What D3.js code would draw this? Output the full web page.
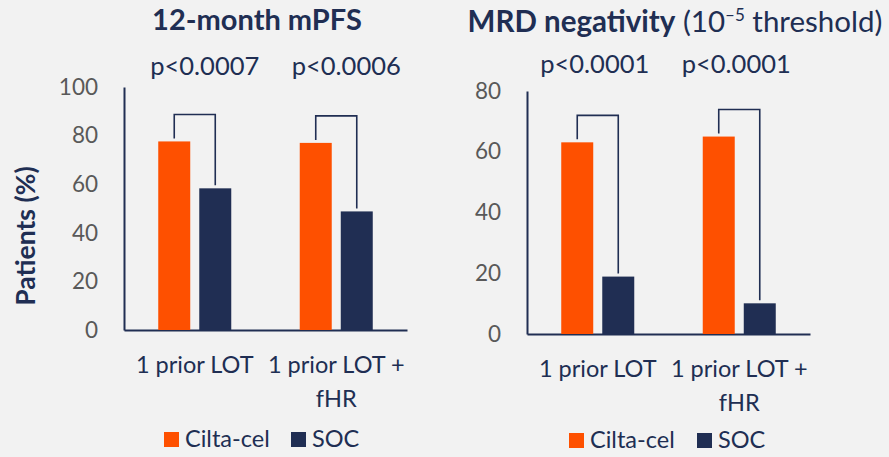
<!DOCTYPE html>
<html><head><meta charset="utf-8">
<script src="https://cdn.jsdelivr.net/npm/d3@7"></script>
<style>
html,body{margin:0;padding:0;background:#F2F2F2;}
svg{display:block;font-family:Lato,"Open Sans",sans-serif;}
</style></head>
<body>
<svg id="c" width="889" height="457"></svg>
<script>
const categories = ["1 prior LOT", "1 prior LOT + fHR"];
const categoryLines = [["1 prior LOT"], ["1 prior LOT +", "fHR"]];
const seriesNames = ["Cilta-cel", "SOC"];
const pfsCilta = [77.6, 77.0];
const pfsSOC = [58.3, 48.8];
const mrdCilta = [63.1, 65.0];
const mrdSOC = [18.9, 10.1];
const pfsPValues = ["p<0.0007", "p<0.0006"];
const mrdPValues = ["p<0.0001", "p<0.0001"];
const pfsTicks = [0, 20, 40, 60, 80, 100];
const mrdTicks = [0, 20, 40, 60, 80];
const colors = {"Cilta-cel": "#FE5000", "SOC": "#202E53"};
const navy = "#202E53";

const svg = d3.select("#c");
svg.append("rect").attr("width", 889).attr("height", 457).attr("fill", "#F2F2F2");

function panel(cfg) {
  const g = svg.append("g");
  const x = d3.scaleBand().domain(categories).range([cfg.x0, cfg.x1]).padding(0);
  const xi = d3.scaleBand().domain(seriesNames).range([0, x.bandwidth()]).paddingInner(0.22).paddingOuter(0.835);
  const y = d3.scaleLinear().domain([0, cfg.max]).range([cfg.yBottom, cfg.yTop]);

  // y axis
  const ya = g.append("g").attr("transform", `translate(${cfg.x0},0)`)
    .call(d3.axisLeft(y).tickValues(cfg.ticks).tickSize(0).tickPadding(26));
  ya.select(".domain").attr("stroke", navy).attr("stroke-width", 2);
  ya.selectAll("text").attr("font-size", 22.5).attr("fill", "#595959").attr("font-family", "Lato");

  // x axis
  const xa = g.append("g").attr("transform", `translate(0,${cfg.yBottom})`)
    .call(d3.axisBottom(x).tickSize(0).tickFormat(""));
  xa.select(".domain").attr("stroke", navy).attr("stroke-width", 2);
  xa.selectAll(".tick text").remove();
  categories.forEach((c, i) => {
    const t = g.append("text").attr("text-anchor", "middle").attr("fill", navy)
      .attr("font-size", 23.5).attr("x", x(c) + x.bandwidth() / 2).attr("y", cfg.yBottom + 43);
    categoryLines[i].forEach((ln, j) => {
      t.append("tspan").attr("x", x(c) + x.bandwidth() / 2).attr("dy", j === 0 ? 0 : 34).text(ln);
    });
  });

  // bars
  categories.forEach((c, i) => {
    const vals = {"Cilta-cel": cfg.cilta[i], "SOC": cfg.soc[i]};
    seriesNames.forEach(s => {
      g.append("rect").attr("x", x(c) + xi(s)).attr("width", xi.bandwidth())
        .attr("y", y(vals[s])).attr("height", cfg.yBottom - y(vals[s]))
        .attr("fill", colors[s]);
    });
    // bracket
    const xl = x(c) + xi("Cilta-cel") + xi.bandwidth() / 2;
    const xr = x(c) + xi("SOC") + xi.bandwidth() / 2;
    const top = y(vals["Cilta-cel"]) - 27;
    g.append("path").attr("fill", "none").attr("stroke", navy).attr("stroke-width", 1.6)
      .attr("d", `M${xl},${y(vals["Cilta-cel"]) - 3}V${top}H${xr}V${y(vals["SOC"]) - 3}`);
    // p-value
    g.append("text").attr("text-anchor", "middle").attr("fill", navy).attr("font-size", 25.5)
      .attr("x", x(c) + x.bandwidth() / 2 + cfg.pShift).attr("y", cfg.pY).text(cfg.pvals[i]);
  });

  // legend
  const lg = g.append("g").attr("transform", `translate(${cfg.legX},${cfg.legY})`);
  lg.append("rect").attr("x", 0).attr("y", -15).attr("width", 15).attr("height", 15).attr("fill", colors["Cilta-cel"]);
  lg.append("text").attr("x", 21).attr("y", 0).attr("fill", navy).attr("font-size", 23.5).text(seriesNames[0]);
  lg.append("rect").attr("x", cfg.legGap).attr("y", -15).attr("width", 15).attr("height", 15).attr("fill", colors["SOC"]);
  lg.append("text").attr("x", cfg.legGap + 21).attr("y", 0).attr("fill", navy).attr("font-size", 23.5).text(seriesNames[1]);
  return {x, y};
}

panel({x0: 124, x1: 407, yTop: 87, yBottom: 330, max: 100, ticks: pfsTicks,
  cilta: pfsCilta, soc: pfsSOC, pvals: pfsPValues, pShift: 10, pY: 75,
  legX: 164, legY: 447, legGap: 127});
panel({x0: 527, x1: 810, yTop: 91, yBottom: 334, max: 80, ticks: mrdTicks,
  cilta: mrdCilta, soc: mrdSOC, pvals: mrdPValues, pShift: -3, pY: 73,
  legX: 569, legY: 448, legGap: 128});

// titles
svg.append("text").attr("x", 257).attr("y", 30).attr("text-anchor", "middle")
  .attr("fill", navy).attr("font-size", 29).attr("font-weight", "bold").text("12-month mPFS");
const t2 = svg.append("text").attr("x", 675).attr("y", 32).attr("text-anchor", "middle")
  .attr("fill", navy).attr("font-size", 29.5);
t2.append("tspan").attr("font-weight", "bold").text("MRD negativity");
t2.append("tspan").text(" (10");
t2.append("tspan").attr("font-size", 17).attr("dy", -11).text("\u20135");
t2.append("tspan").attr("dy", 11).text(" threshold)");

// y label
svg.append("text").attr("transform", "translate(35,236) rotate(-90)").attr("text-anchor", "middle")
  .attr("fill", navy).attr("font-size", 26.5).attr("font-weight", "bold").text("Patients (%)");
</script>
</body></html>
